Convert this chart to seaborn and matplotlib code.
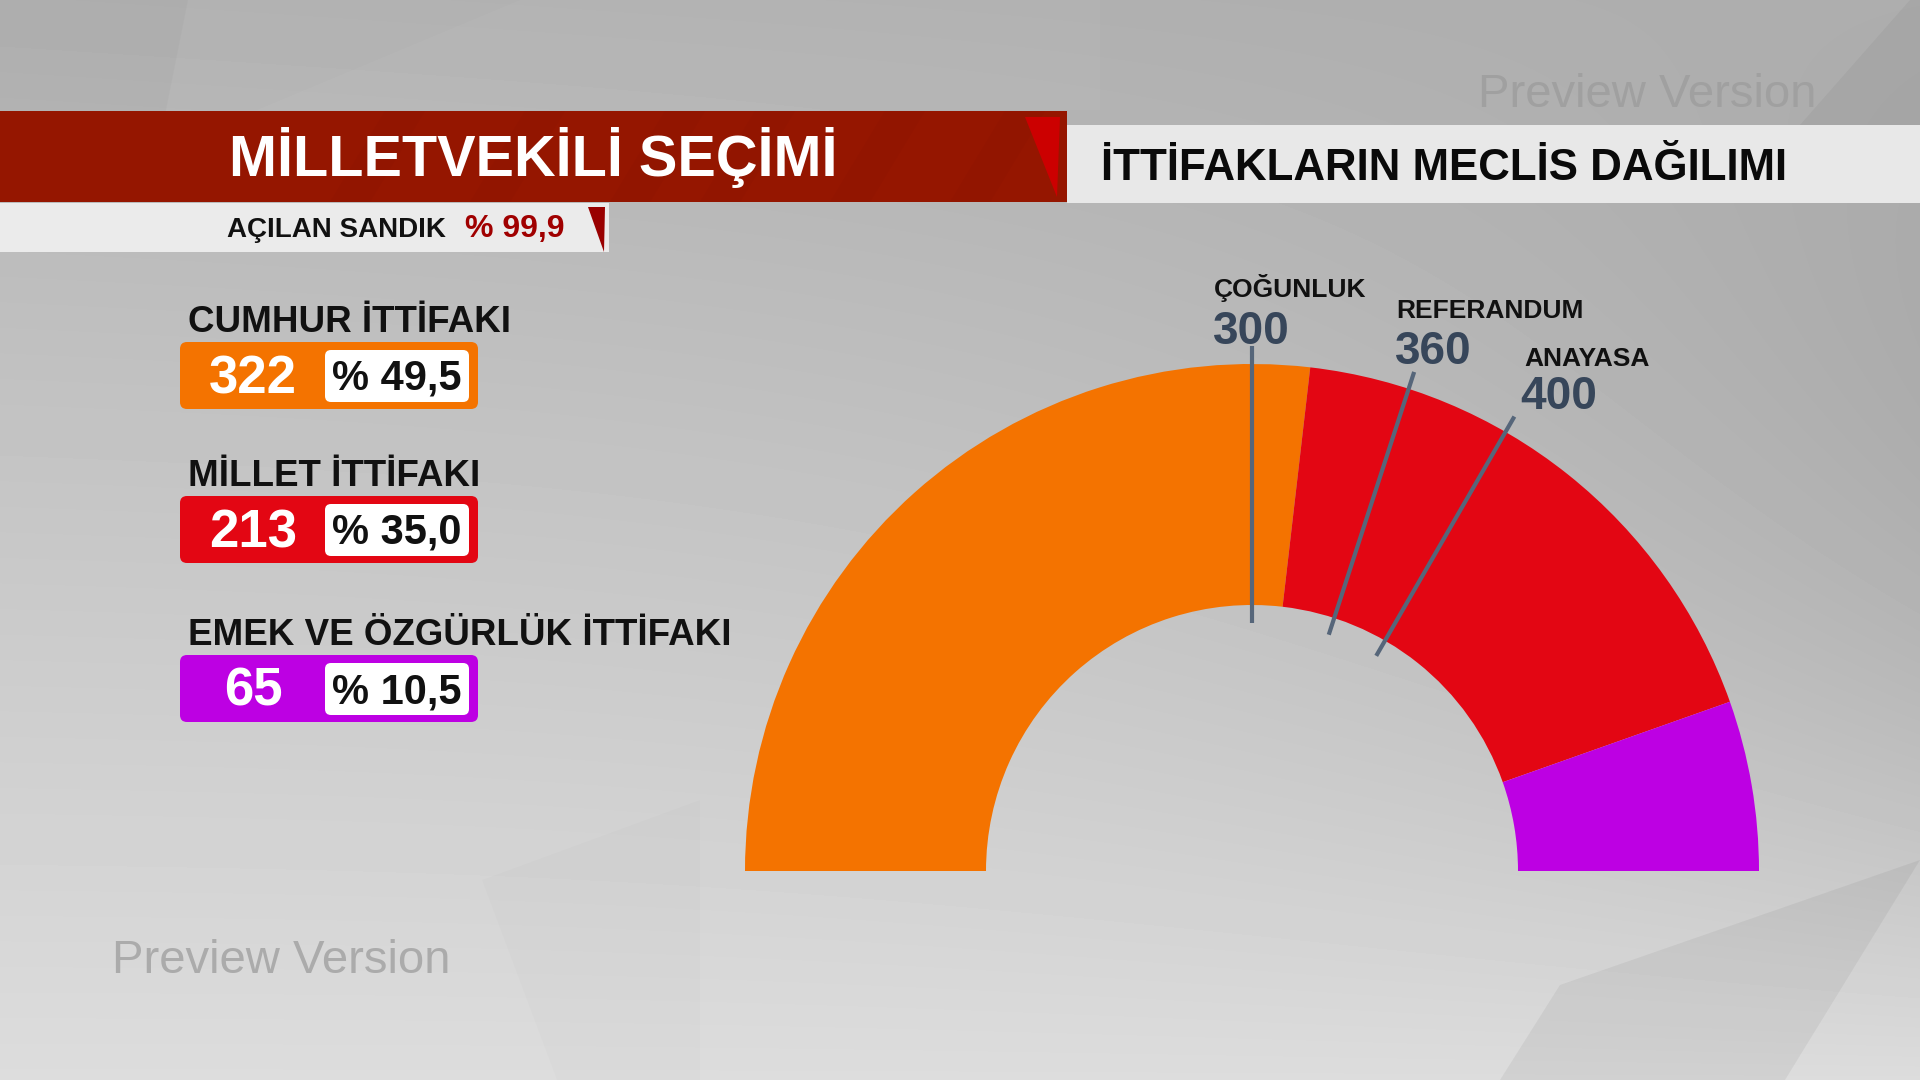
import numpy as np
import matplotlib
matplotlib.use('Agg')
import matplotlib.pyplot as plt
from matplotlib.patches import Polygon, Rectangle, FancyBboxPatch
import seaborn as sns

# --- data -------------------------------------------------------------
alliances = ['CUMHUR İTTİFAKI', 'MİLLET İTTİFAKI', 'EMEK VE ÖZGÜRLÜK İTTİFAKI']
seats = [322, 213, 65]
vote_share = [49.5, 35.0, 10.5]
alliance_colors = ['#f47300', '#e30613', '#bd00e3']
total_seats = 600

threshold_names = ['ÇOĞUNLUK', 'REFERANDUM', 'ANAYASA']
threshold_seats = [300, 360, 400]

opened_boxes = 99.9
title = 'MİLLETVEKİLİ SEÇİMİ'
subtitle = 'AÇILAN SANDIK'
chart_title = 'İTTİFAKLARIN MECLİS DAĞILIMI'
watermark = 'Preview Version'


def tr_pct(v):
    # turkish style: "% 49,5"
    return '% ' + f'{v:.1f}'.replace('.', ',')


sns.set_theme(style='white')
plt.rcParams['font.family'] = ['Liberation Sans', 'DejaVu Sans']

W, H = 1920, 1080
fig = plt.figure(figsize=(19.2, 10.8), dpi=100)

# --- background with soft gradient and a few facets -------------------
bg = fig.add_axes([0, 0, 1, 1], zorder=0)
yy, xx = np.mgrid[0:H, 0:W]
shade = 0.70 + 0.165 * yy / H - 0.08 * (xx / W) ** 3 * np.sin(np.pi * yy / H) \
    - 0.02 * (xx / W) * (1 - yy / H)
bg.imshow(shade, cmap='gray', vmin=0, vmax=1, extent=(0, W, H, 0),
          aspect='auto', interpolation='bilinear')
facets = [
    ([(0, 0), (188, 0), (160, 140), (0, 140)], 'black', 0.025),
    ([(520, 0), (1100, 0), (1100, 110), (257, 110)], 'white', 0.03),
    ([(1910, 0), (1920, 0), (1920, 125), (1800, 125)], 'black', 0.04),
    ([(1560, 985), (1920, 860), (1785, 1080), (1500, 1080)], 'black', 0.05),
    ([(482, 880), (700, 800), (700, 1080), (557, 1080)], 'black', 0.012),
]
for pts, col, a in facets:
    bg.add_patch(Polygon(pts, closed=True, fc=col, ec='none', alpha=a))
bg.set_xlim(0, W)
bg.set_ylim(H, 0)
bg.axis('off')

# --- half donut of seats ----------------------------------------------
cx, cy, R, r_in = 1252, 871, 507, 266
pie_ax = fig.add_axes([(cx - R) / W, (H - cy - R) / H, 2 * R / W, 2 * R / H], zorder=1)
pie_ax.pie(seats + [total_seats], colors=alliance_colors + ['none'],
           startangle=180, counterclock=False,
           wedgeprops=dict(width=1 - r_in / R, linewidth=0))
pie_ax.set_xlim(-1, 1)
pie_ax.set_ylim(-1, 1)
pie_ax.patch.set_visible(False)

for s in threshold_seats:
    ang = np.pi * (1 - s / total_seats)
    r0, r1 = 0.49, 1.035
    pie_ax.plot([r0 * np.cos(ang), r1 * np.cos(ang)],
                [r0 * np.sin(ang), r1 * np.sin(ang)],
                color='#56667a', lw=3, solid_capstyle='butt', clip_on=False, zorder=3)

# --- overlay in pixel coordinates --------------------------------------
ov = fig.add_axes([0, 0, 1, 1], zorder=2)
ov.set_xlim(0, W)
ov.set_ylim(H, 0)
ov.axis('off')
ov.patch.set_visible(False)

# red title bar
ov.add_patch(Rectangle((0, 111), 1067, 91, fc='#951600', ec='none'))
for x0 in [330, 470, 610, 700, 830, 950]:
    ov.add_patch(Polygon([(x0 + 55, 111), (x0 + 95, 111), (x0 + 40, 202), (x0, 202)],
                         fc='#6e0c00', ec='none', alpha=0.07))
ov.add_patch(Polygon([(1025, 117), (1060, 117), (1057, 197)], fc='#cc0000', ec='none'))
ov.text(229, 176, title, color='white', fontsize=41.5, fontweight='bold', va='baseline')

# opened ballot box strip
ov.add_patch(Rectangle((0, 203), 609, 49, fc='#ebebeb', ec='none'))
ov.add_patch(Polygon([(588, 207), (605, 207), (604, 252)], fc='#990000', ec='none'))
ov.text(227, 237, subtitle, color='#111111', fontsize=20, fontweight='bold', va='baseline')
ov.text(465, 237, tr_pct(opened_boxes), color='#a00000', fontsize=23,
        fontweight='bold', va='baseline')

# right chart title bar
ov.add_patch(Rectangle((1067, 125), 853, 78, fc='#e8e8e8', ec='none'))
ov.text(1101, 180, chart_title, color='#0a0a0a', fontsize=31.6, fontweight='bold', va='baseline')

# alliance badges
badge_tops = [342, 496, 655]
for name, s, v, c, top in zip(alliances, seats, vote_share, alliance_colors, badge_tops):
    ov.text(188, top - 10, name, fontsize=26.5, fontweight='bold',
            color='#111111', va='baseline')
    ov.add_patch(FancyBboxPatch((180, top), 298, 67, boxstyle='round,pad=0,rounding_size=7',
                                fc=c, ec='none'))
    ov.add_patch(FancyBboxPatch((325, top + 8), 144, 52, boxstyle='round,pad=0,rounding_size=6',
                                fc='white', ec='none'))
    ov.text(253, top + 51, str(s), ha='center', va='baseline', fontsize=38,
            fontweight='bold', color='white')
    ov.text(397, top + 48, tr_pct(v), ha='center', va='baseline', fontsize=30,
            fontweight='bold', color='#111111')

# threshold labels
name_pos = [(1214, 297), (1396, 318), (1524, 366)]
num_pos = [(1213, 344), (1395, 364), (1520, 409)]
for nm, s, (nx, ny), (mx, my) in zip(threshold_names, threshold_seats, name_pos, num_pos):
    ov.text(nx, ny, nm, fontsize=19, fontweight='bold', color='#111111', va='baseline')
    ov.text(mx, my, str(s), fontsize=33, fontweight='bold', color='#37465a', va='baseline')

# watermarks
ov.text(1478, 107, watermark, fontsize=34, color='#a0a0a0', va='baseline')
ov.text(112, 973, watermark, fontsize=34, color='#ababab', va='baseline')

fig.savefig('out.png', dpi=100)
